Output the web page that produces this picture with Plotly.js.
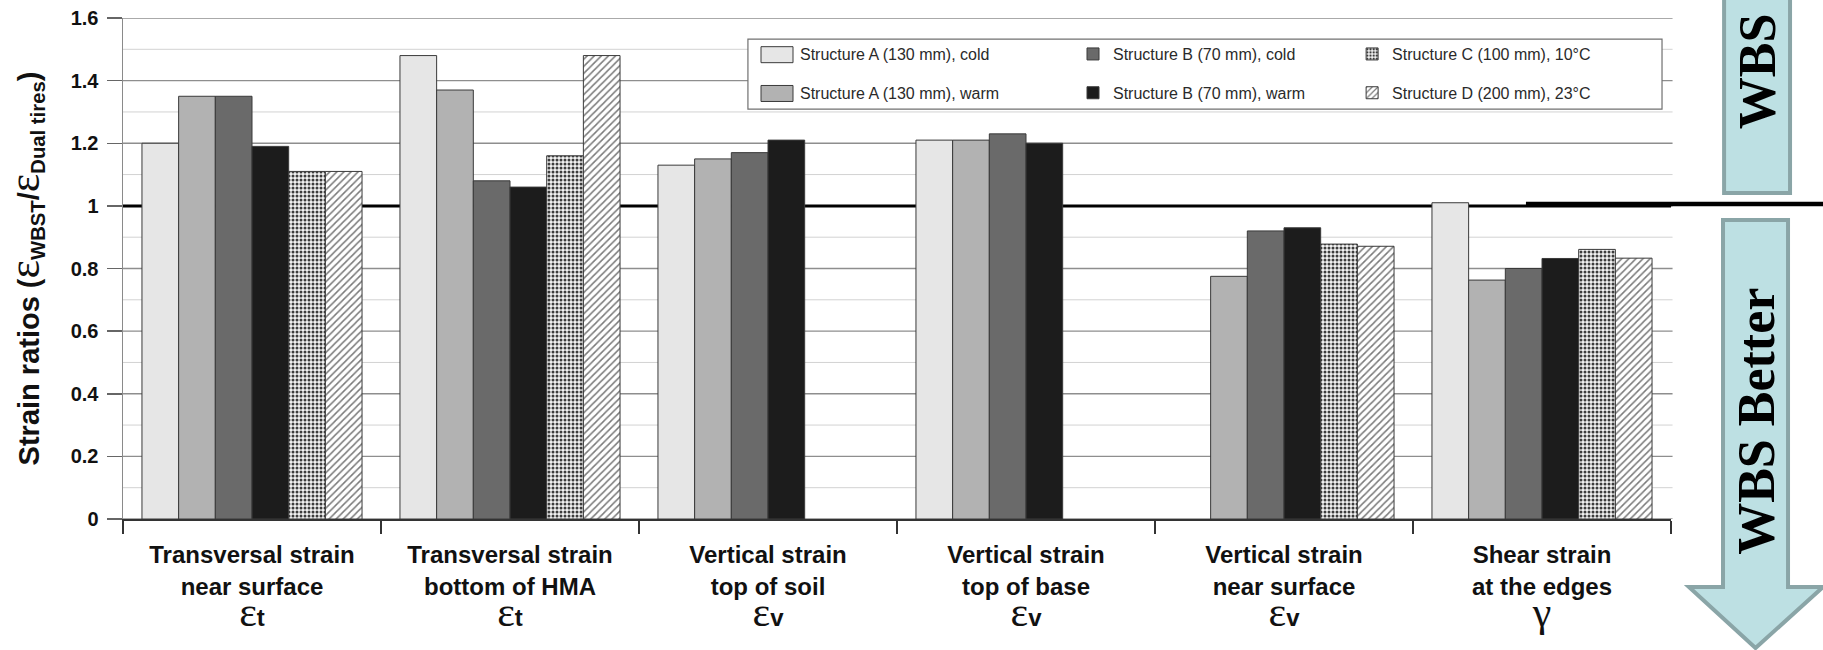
<!DOCTYPE html>
<html><head><meta charset="utf-8">
<script src="https://cdn.plot.ly/plotly-3.0.1.min.js"></script>
<style>html,body{margin:0;padding:0;background:#fff}#chart{width:1823px;height:650px}</style>
</head><body><div id="chart"></div>
<script>
// ---- data ----
const categoryLine1 = ['Transversal strain','Transversal strain','Vertical strain','Vertical strain','Vertical strain','Shear strain'];
const categoryLine2 = ['near surface','bottom of HMA','top of soil','top of base','near surface','at the edges'];
const strainSymbol = ['ε','ε','ε','ε','ε','γ'];
const strainSubscript = ['t','t','v','v','v',''];

const seriesNames = ['Structure A (130 mm), cold','Structure A (130 mm), warm','Structure B (70 mm), cold','Structure B (70 mm), warm','Structure C (100 mm), 10°C','Structure D (200 mm), 23°C'];
const structureAcold = [1.20, 1.48, 1.13, 1.21, null, 1.01];
const structureAwarm = [1.35, 1.37, 1.15, 1.21, 0.775, 0.763];
const structureBcold = [1.35, 1.08, 1.17, 1.23, 0.92, 0.80];
const structureBwarm = [1.19, 1.06, 1.21, 1.20, 0.93, 0.832];
const structureC10 = [1.11, 1.16, null, null, 0.878, 0.861];
const structureD23 = [1.11, 1.48, null, null, 0.871, 0.833];

const yTickValues = [0, 0.2, 0.4, 0.6, 0.8, 1, 1.2, 1.4, 1.6];
const yTickLabels = ['0', '0.2', '0.4', '0.6', '0.8', '1', '1.2', '1.4', '1.6'];
const referenceRatio = 1;
const titleParts = ['Strain ratios (', 'ε', 'WBST', '/', 'ε', 'Dual tires', ')'];
const arrowTopLabel = 'WBS';
const arrowBottomLabel = 'WBS Better';

// ---- build ----
const SANS = 'Liberation Sans, Arial, Helvetica, sans-serif';
const SERIF = 'Liberation Serif, Times New Roman, serif';
const symStyle = "font-family:'Liberation Serif';font-size:42px;font-weight:normal";
const categories = categoryLine1.map((l1, i) =>
  l1 + '<br>' + categoryLine2[i] + '<br><span style="' + symStyle + '">' + strainSymbol[i] + '</span>' + strainSubscript[i]);

const seriesValues = [structureAcold, structureAwarm, structureBcold, structureBwarm, structureC10, structureD23];
const seriesStyle = [
  {color: '#e6e6e6'},
  {color: '#b2b2b2'},
  {color: '#6a6a6a'},
  {color: '#1c1c1c'},
  {color: '#f2f2f2', pattern: {shape: '.', fgcolor: '#3c3c3c', bgcolor: '#f2f2f2', size: 4, solidity: 0.45}},
  {color: '#ffffff', pattern: {shape: '/', fgcolor: '#7a7a7a', bgcolor: '#ffffff', size: 5, solidity: 0.3}}
];
const legendIds = ['legend', 'legend', 'legend2', 'legend2', 'legend3', 'legend3'];

const traces = seriesValues.map((vals, i) => ({
  type: 'bar',
  name: seriesNames[i],
  x: categories,
  y: vals,
  legend: legendIds[i],
  legendgroup: 'g' + i,
  marker: Object.assign({line: {color: '#3a3a3a', width: 1}}, seriesStyle[i]),
  hoverinfo: 'skip'
}));

const legendBase = {
  xanchor: 'left', yanchor: 'top', bgcolor: 'rgba(0,0,0,0)', borderwidth: 0,
  font: {family: SANS, size: 16, color: '#2a2a2a'}, tracegroupgap: 15
};

const epsSpan = '<span style="font-family:\'Liberation Serif\';font-size:44px;font-weight:normal">';
const yTitle = titleParts[0] + epsSpan + titleParts[1] + '</span><sub>' + titleParts[2] + '</sub>' +
  titleParts[3] + epsSpan + titleParts[4] + '</span><sub>' + titleParts[5] + '</sub>' + titleParts[6];

const teal = '#bde0e3', tealLine = '#8aa5a7';

// gridlines (drawn as below-layer shapes so the ratio-1 line can sit on top of them, under the bars)
const minorGridValues = yTickValues.slice(0, -1).map((v, i) => (v + yTickValues[i + 1]) / 2);
const gridShapes = [];
minorGridValues.forEach(v => gridShapes.push({type: 'line', xref: 'paper', yref: 'y', x0: 0, x1: 1.001, y0: v, y1: v,
  line: {color: '#d2d2d2', width: 1}, layer: 'below'}));
yTickValues.forEach(v => gridShapes.push({type: 'line', xref: 'paper', yref: 'y', x0: 0, x1: 1.001, y0: v, y1: v,
  line: {color: '#8e8e8e', width: 1.3}, layer: 'below'}));
gridShapes.push({type: 'line', xref: 'paper', yref: 'y', x0: 0, x1: 1, y0: referenceRatio, y1: referenceRatio,
  line: {color: '#000', width: 3}, layer: 'below'});

const layout = {
  width: 1823, height: 650,
  margin: {l: 123, r: 152, t: 18, b: 131},
  paper_bgcolor: '#ffffff', plot_bgcolor: 'rgba(0,0,0,0)',
  font: {family: SANS, color: '#111'},
  barmode: 'group', bargap: 0.147, bargroupgap: 0,
  showlegend: true,
  legend: Object.assign({x: 0.4115, y: 0.962}, legendBase),
  legend2: Object.assign({x: 0.6137, y: 0.962}, legendBase),
  legend3: Object.assign({x: 0.7940, y: 0.962}, legendBase),
  xaxis: {
    type: 'category', showline: true, linecolor: '#333', linewidth: 1.5,
    ticks: 'outside', tickson: 'boundaries', ticklen: 13, tickcolor: '#333', tickwidth: 1.5,
    showgrid: false, zeroline: false, ticklabelstandoff: 14,
    tickfont: {family: SANS, size: 24, color: '#111', weight: 'bold'},
    fixedrange: true
  },
  yaxis: {
    range: [0, 1.6], tickvals: yTickValues, ticktext: yTickLabels,
    showline: true, linecolor: '#8a8a8a', linewidth: 1.5,
    ticks: 'outside', ticklen: 15, tickcolor: '#666', tickwidth: 1.5,
    showgrid: false, zeroline: false,
    tickfont: {family: SANS, size: 20, color: '#111', weight: 'bold'},
    ticklabelstandoff: 4,
    title: {text: yTitle, font: {family: SANS, size: 29, color: '#111', weight: 'bold'}, standoff: 26},
    fixedrange: true
  },
  shapes: gridShapes.concat([
    // legend frame
    {type: 'rect', xref: 'paper', yref: 'paper', x0: 0.4037, x1: 0.9942, y0: 0.818, y1: 0.958,
     fillcolor: '#ffffff', line: {color: '#707070', width: 1.2}, layer: 'above'},
    // divider line on right
    {type: 'line', xref: 'paper', yref: 'paper', x0: 0.9063, x1: 1.11, y0: 0.6287, y1: 0.6287,
     line: {color: '#000', width: 4.5}, layer: 'above'},
    // top box
    {type: 'rect', xref: 'paper', yref: 'paper', x0: 1.0343, x1: 1.0769, y0: 0.6507, y1: 1.06,
     fillcolor: teal, line: {color: tealLine, width: 4}, layer: 'above'},
    // down arrow
    {type: 'path', xref: 'paper', yref: 'paper',
     path: 'M1.0336,0.5968 L1.0756,0.5968 L1.0756,-0.1357 L1.0982,-0.1357 L1.0546,-0.2575 L1.0116,-0.1357 L1.0336,-0.1357 Z',
     fillcolor: teal, line: {color: tealLine, width: 4}, layer: 'above'}
  ]),
  annotations: [
    {xref: 'paper', yref: 'paper', x: 1.0556, y: 0.894, text: arrowTopLabel, showarrow: false, textangle: -90,
     xanchor: 'center', yanchor: 'middle', font: {family: SERIF, size: 52, color: '#000', weight: 'bold'}},
    {xref: 'paper', yref: 'paper', x: 1.0556, y: 0.194, text: arrowBottomLabel, showarrow: false, textangle: -90,
     xanchor: 'center', yanchor: 'middle', font: {family: SERIF, size: 52, color: '#000', weight: 'bold'}}
  ]
};

function fixSwatches() {
  const gd = document.getElementById('chart');
  const svg = gd.querySelector('svg.main-svg');
  gd.querySelectorAll('g.legend g.traces').forEach(tr => {
    const txt = tr.querySelector('text.legendtext');
    const path = tr.querySelector('g.legendpoints path');
    if (!txt || !path) return;
    const tb = txt.getBoundingClientRect();
    const m = path.getScreenCTM().inverse();
    const p1 = svg.createSVGPoint(); p1.x = tb.left - 39; p1.y = tb.top + tb.height / 2;
    const p2 = svg.createSVGPoint(); p2.x = tb.left - 7; p2.y = tb.top + tb.height / 2;
    const a = p1.matrixTransform(m), b = p2.matrixTransform(m);
    const cy = (a.y + b.y) / 2;
    path.setAttribute('d', 'M' + a.x + ',' + (cy - 8) + 'H' + b.x + 'V' + (cy + 8) + 'H' + a.x + 'Z');
  });
}

Plotly.newPlot('chart', traces, layout, {staticPlot: true, displayModeBar: false}).then(fixSwatches);
</script>
</body></html>
